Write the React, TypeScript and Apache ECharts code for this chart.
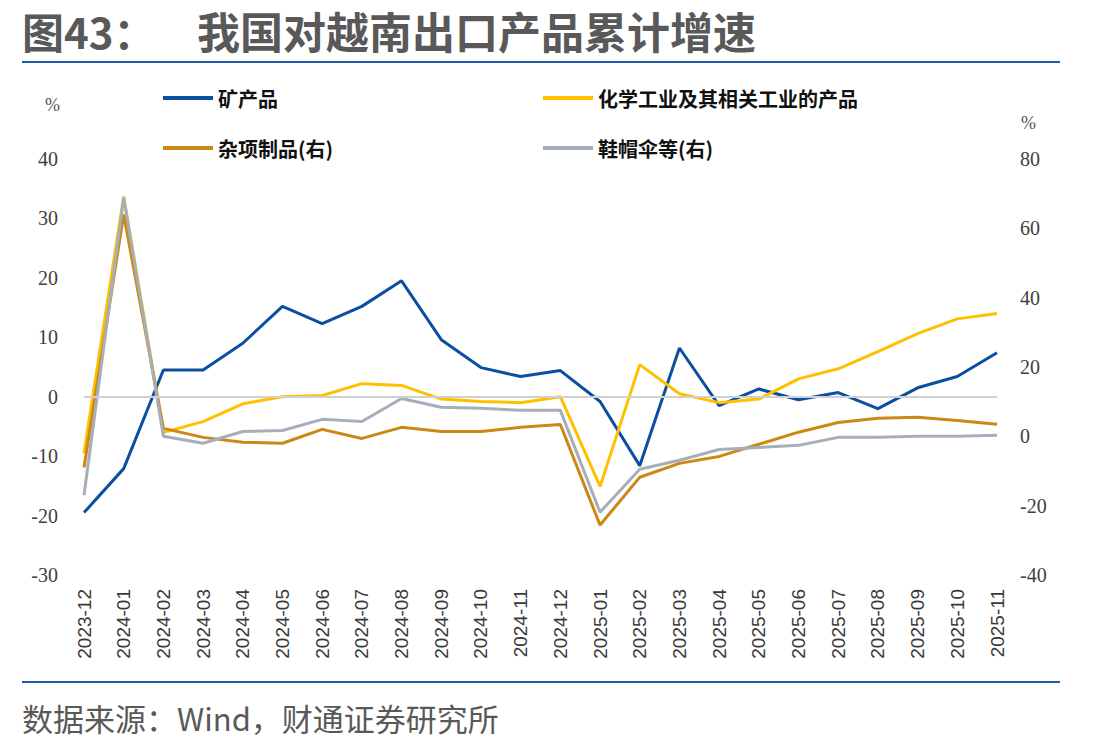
import React, { useEffect, useRef } from 'react';
import * as echarts from 'echarts';

// Monthly categories (cumulative YoY growth of exports to Vietnam)
const months = [
  '2023-12', '2024-01', '2024-02', '2024-03', '2024-04', '2024-05', '2024-06', '2024-07',
  '2024-08', '2024-09', '2024-10', '2024-11', '2024-12', '2025-01', '2025-02', '2025-03',
  '2025-04', '2025-05', '2025-06', '2025-07', '2025-08', '2025-09', '2025-10', '2025-11',
];

// Left axis series (%)
const mineral = [
  -19.5, -12.1, 4.5, 4.5, 9.0, 15.2, 12.3, 15.2, 19.5, 9.6, 4.9, 3.4,
  4.4, -0.8, -11.6, 8.2, -1.5, 1.3, -0.5, 0.7, -2.0, 1.5, 3.4, 7.4,
];
const chemical = [
  -9.5, 33.7, -6.0, -4.2, -1.2, 0.0, 0.2, 2.2, 1.9, -0.4, -0.8, -1.0,
  0.0, -15.1, 5.4, 0.5, -1.0, -0.4, 3.0, 4.7, 7.6, 10.6, 13.1, 14.0,
];

// Right axis series (%)
const misc = [
  -9.0, 64.0, 2.3, -0.3, -1.7, -2.0, 2.0, -0.6, 2.6, 1.4, 1.4, 2.6,
  3.4, -25.6, -11.8, -7.8, -5.8, -2.3, 1.2, 4.0, 5.2, 5.5, 4.6, 3.5,
];
const footwear = [
  -17.0, 68.9, 0.0, -2.0, 1.4, 1.7, 4.9, 4.3, 10.9, 8.4, 8.1, 7.5,
  7.5, -21.9, -9.5, -6.9, -3.8, -3.2, -2.6, -0.3, -0.3, 0.0, 0.0, 0.3,
];

const seriesNames = ['矿产品', '化学工业及其相关工业的产品', '杂项制品(右)', '鞋帽伞等(右)'];
const seriesColors = ['#0B4FA0', '#FFC000', '#CC8714', '#A6AFB9'];

const leftAxis = { min: -30, max: 40, interval: 10 };
const rightAxis = { min: -40, max: 80, interval: 20 };

const titleLabel = '图43：';
const titleText = '我国对越南出口产品累计增速';
const sourceText = '数据来源：Wind，财通证券研究所';

export default function App() {
  const ref = useRef<HTMLDivElement>(null);

  useEffect(() => {
    if (!ref.current) return;
    const chart = echarts.init(ref.current, undefined, { renderer: 'svg' });

    const tickFont = { fontFamily: 'Liberation Serif', fontSize: 20, color: '#404040' };
    const legendBase = {
      icon: 'rect',
      itemWidth: 50,
      itemHeight: 4,
      padding: 0,
      selectedMode: false,
      textStyle: {
        fontFamily: 'Noto Sans CJK SC',
        fontWeight: 'bold',
        fontSize: 20,
        color: '#111111',
      },
    };
    const lineSeries = (i: number, data: number[], yAxisIndex: number) => ({
      name: seriesNames[i],
      type: 'line',
      data,
      yAxisIndex,
      symbol: 'none',
      lineStyle: { color: seriesColors[i], width: 3 },
      itemStyle: { color: seriesColors[i] },
      z: 3,
    });

    chart.setOption({
      animation: false,
      backgroundColor: '#ffffff',
      grid: { left: 84, right: 111, top: 159, bottom: 173 },
      legend: [
        { ...legendBase, data: [seriesNames[0]], left: 163, top: 88 },
        { ...legendBase, data: [seriesNames[1]], left: 543, top: 88 },
        { ...legendBase, data: [seriesNames[2]], left: 163, top: 138 },
        { ...legendBase, data: [seriesNames[3]], left: 543, top: 138 },
      ],
      xAxis: {
        type: 'category',
        data: months,
        boundaryGap: false,
        axisLine: { show: false },
        axisTick: { show: false },
        splitLine: { show: false },
        axisLabel: {
          interval: 0,
          rotate: 90,
          margin: 14,
          fontFamily: 'Liberation Sans',
          fontSize: 19,
          color: '#3A3A3A',
        },
      },
      yAxis: [
        {
          type: 'value',
          ...leftAxis,
          position: 'left',
          axisLine: { show: false },
          axisTick: { show: false },
          splitLine: { show: false },
          axisLabel: { ...tickFont, margin: 26 },
        },
        {
          type: 'value',
          ...rightAxis,
          position: 'right',
          axisLine: { show: false },
          axisTick: { show: false },
          splitLine: { show: false },
          axisLabel: { ...tickFont, margin: 23 },
        },
      ],
      graphic: [
        {
          type: 'text',
          x: 22,
          y: 30,
          style: {
            text: titleLabel,
            font: 'bold 42px "Noto Sans CJK SC"',
            fill: '#595959',
            verticalAlign: 'middle',
          },
        },
        {
          type: 'text',
          x: 197,
          y: 30,
          style: {
            text: titleText,
            font: 'bold 43px "Noto Sans CJK SC"',
            fill: '#595959',
            verticalAlign: 'middle',
          },
        },
        { type: 'rect', shape: { x: 22, y: 61, width: 1038, height: 2 }, style: { fill: '#1F5BA8' } },
        { type: 'rect', shape: { x: 22, y: 681, width: 1038, height: 2 }, style: { fill: '#1F5BA8' } },
        {
          type: 'text',
          x: 22,
          y: 717,
          style: {
            text: sourceText,
            font: '31px "Noto Sans CJK SC"',
            fill: '#595959',
            verticalAlign: 'middle',
          },
        },
        {
          type: 'text',
          left: 45,
          top: 96,
          style: { text: '%', font: '18px "Liberation Serif"', fill: '#555555' },
        },
        {
          type: 'text',
          left: 1021,
          top: 114,
          style: { text: '%', font: '18px "Liberation Serif"', fill: '#555555' },
        },
      ],
      series: [
        {
          name: 'zero',
          type: 'line',
          data: [],
          yAxisIndex: 0,
          z: 1,
          silent: true,
          markLine: {
            silent: true,
            symbol: 'none',
            label: { show: false },
            lineStyle: { color: '#D0D0D0', width: 2, type: 'solid' },
            data: [{ yAxis: 0 }],
          },
        },
        lineSeries(0, mineral, 0),
        lineSeries(1, chemical, 0),
        lineSeries(2, misc, 1),
        lineSeries(3, footwear, 1),
      ],
    });

    return () => chart.dispose();
  }, []);

  return (
    <div
      ref={ref}
      style={{ position: 'fixed', left: 0, top: 0, width: 1108, height: 748, background: '#fff' }}
    />
  );
}
